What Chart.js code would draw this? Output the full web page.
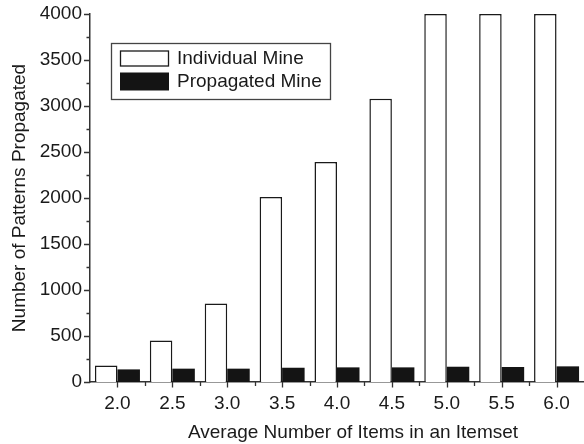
<!DOCTYPE html>
<html>
<head>
<meta charset="utf-8">
<script src="https://cdn.jsdelivr.net/npm/chart.js@4.4.1/dist/chart.umd.min.js"></script>
<style>
  html, body { margin: 0; padding: 0; background: #ffffff; }
  #wrap { width: 584px; height: 444px; position: relative; }
</style>
</head>
<body>
<div id="wrap"><canvas id="chart" width="584" height="444"></canvas></div>
<script>
// Average number of items per itemset
const categories = ['2.0', '2.5', '3.0', '3.5', '4.0', '4.5', '5.0', '5.5', '6.0'];

// Number of patterns propagated by each strategy
const individualMine = [180, 452, 854, 2010, 2390, 3080, 4000, 4000, 4000];
const propagatedMine = [137, 145, 145, 155, 159, 159, 166, 163, 170];

const seriesNames = ['Individual Mine', 'Propagated Mine'];

// Y axis range and labelled step
const yMin = 0;
const yMax = 4000;
const yStep = 500;

const xTitle = 'Average Number of Items in an Itemset';
const yTitle = 'Number of Patterns Propagated';

const FONT = "'Liberation Sans', Arial, Helvetica, sans-serif";
const INK = '#1a1a1a';
const AXIS = '#333333';

// Tick marks: long ones at labelled positions, short ones in between
const axisTicks = {
  id: 'axisTicks',
  afterDraw(chart) {
    const ctx = chart.ctx;
    const x = chart.scales.x, y = chart.scales.y;
    const area = chart.chartArea;
    ctx.save();
    ctx.strokeStyle = AXIS;
    ctx.lineWidth = 1.3;
    ctx.beginPath();
    // y axis: major at each step, minor at half steps
    for (let v = yMin; v <= yMax; v += yStep / 2) {
      const py = Math.round(y.getPixelForValue(v)) + 0.5;
      const len = (v % yStep === 0) ? 6 : 3.5;
      ctx.moveTo(area.left - len, py);
      ctx.lineTo(area.left, py);
    }
    // x axis: major at category centres, minor at category boundaries
    for (let i = 0; i < categories.length; i++) {
      const px = Math.round(x.getPixelForValue(i)) + 0.5;
      ctx.moveTo(px, area.bottom);
      ctx.lineTo(px, area.bottom + 5.5);
      if (i < categories.length - 1) {
        const pb = Math.round(x.getPixelForValue(i + 0.5)) + 0.5;
        ctx.moveTo(pb, area.bottom);
        ctx.lineTo(pb, area.bottom + 4);
      }
    }
    ctx.stroke();
    ctx.restore();
  }
};

// X axis title, set slightly right of the plot centre
const xAxisTitle = {
  id: 'xAxisTitle',
  afterDraw(chart) {
    const ctx = chart.ctx;
    const area = chart.chartArea;
    ctx.save();
    ctx.font = '19px ' + FONT;
    ctx.fillStyle = INK;
    ctx.textAlign = 'center';
    ctx.textBaseline = 'alphabetic';
    ctx.fillText(xTitle, (area.left + area.right) / 2 + 16, 438);
    ctx.restore();
  }
};

// Boxed legend inside the plot, upper left
const boxLegend = {
  id: 'boxLegend',
  afterDraw(chart) {
    const ctx = chart.ctx;
    const ds = chart.data.datasets;
    ctx.save();
    ctx.fillStyle = '#ffffff';
    ctx.fillRect(111, 43, 220, 56);
    ctx.strokeStyle = '#444444';
    ctx.lineWidth = 1.3;
    ctx.strokeRect(111.5, 43.5, 219, 56);

    const rows = [
      { y: 50.5, h: 16, mid: 59 },
      { y: 72.5, h: 18, mid: 81.5 }
    ];
    ds.forEach((d, i) => {
      const r = rows[i];
      ctx.fillStyle = d.backgroundColor;
      ctx.fillRect(120, r.y, 49, r.h);
      if (d.borderWidth) {
        ctx.strokeStyle = d.borderColor;
        ctx.lineWidth = 1.3;
        ctx.strokeRect(120.5, r.y + 0.5, 48, r.h - 1);
      }
      ctx.fillStyle = INK;
      ctx.font = '19px ' + FONT;
      ctx.textAlign = 'left';
      ctx.textBaseline = 'middle';
      ctx.fillText(d.label, 177, r.mid);
    });
    ctx.restore();
  }
};

new Chart(document.getElementById('chart'), {
  type: 'bar',
  data: {
    labels: categories,
    datasets: [
      {
        label: seriesNames[0],
        data: individualMine,
        backgroundColor: '#ffffff',
        borderColor: INK,
        borderWidth: 1.5,
        categoryPercentage: 0.82,
        barPercentage: 1.0
      },
      {
        label: seriesNames[1],
        data: propagatedMine,
        backgroundColor: '#141414',
        borderColor: '#141414',
        borderWidth: 0,
        categoryPercentage: 0.82,
        barPercentage: 1.0
      }
    ]
  },
  options: {
    responsive: false,
    animation: false,
    devicePixelRatio: 1,
    layout: { padding: { top: 14, right: 0, bottom: 0, left: 0 } },
    plugins: {
      legend: { display: false },
      tooltip: { enabled: false }
    },
    scales: {
      x: {
        z: 1,
        grid: { display: false, drawTicks: false },
        border: { display: true, color: AXIS, width: 1.5 },
        ticks: {
          padding: 10,
          color: INK,
          font: { family: FONT, size: 19 },
          maxRotation: 0,
          autoSkip: false
        },
        afterFit(scale) {
          scale.height = 62;
          scale.paddingLeft = 0;
          scale.paddingRight = 0;
        }
      },
      y: {
        z: 1,
        min: yMin,
        max: yMax,
        grid: { display: false, drawTicks: false },
        border: { display: true, color: AXIS, width: 1.5 },
        ticks: {
          stepSize: yStep,
          padding: 8,
          color: INK,
          font: { family: FONT, size: 19 },
          callback: (v) => String(v)
        },
        title: {
          display: true,
          text: yTitle,
          color: INK,
          font: { family: FONT, size: 19 },
          padding: { top: 8, bottom: 0 }
        },
        afterFit(scale) {
          scale.width = 90;
          scale.paddingTop = 0;
          scale.paddingBottom = 0;
        }
      }
    }
  },
  plugins: [axisTicks, xAxisTitle, boxLegend]
});
</script>
</body>
</html>
